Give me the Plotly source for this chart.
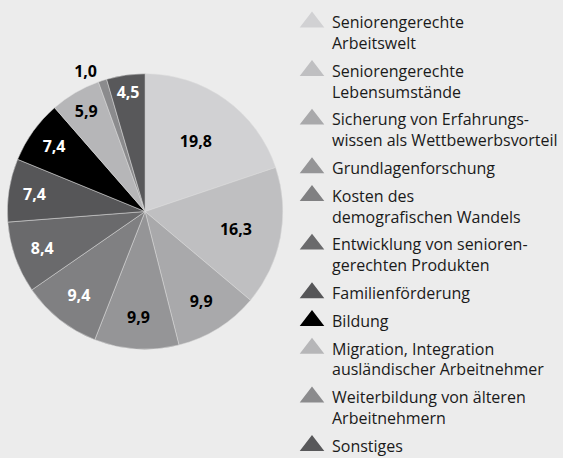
import plotly.graph_objects as go

categories = [
    "Seniorengerechte<br>Arbeitswelt",
    "Seniorengerechte<br>Lebensumstände",
    "Sicherung von Erfahrungs-<br>wissen als Wettbewerbsvorteil",
    "Grundlagenforschung",
    "Kosten des<br>demografischen Wandels",
    "Entwicklung von senioren-<br>gerechten Produkten",
    "Familienförderung",
    "Bildung",
    "Migration, Integration<br>ausländischer Arbeitnehmer",
    "Weiterbildung von älteren<br>Arbeitnehmern",
    "Sonstiges",
]
values = [19.8, 16.3, 9.9, 9.9, 9.4, 8.4, 7.4, 7.4, 5.9, 1.0, 4.5]
colors = ["#d1d1d3", "#bfbfc1", "#a9a9ab", "#959597", "#808082", "#6a6a6c",
          "#565658", "#000000", "#b6b6b8", "#8b8b8d", "#58585a"]
text_colors = ["black", "black", "black", "black", "white", "white",
               "white", "white", "black", "black", "white"]
text_positions = ["inside"] * 9 + ["outside", "inside"]

BG = "#ececec"
W, H = 563, 463  # slightly taller than the 458px window so the legend can sit lower

fig = go.Figure()
fig.add_trace(go.Pie(
    labels=categories,
    values=values,
    sort=False,
    direction="clockwise",
    rotation=0,
    marker=dict(colors=colors, line=dict(color="#dcdcdc", width=0.5)),
    texttemplate="%{value:.1f}",
    textposition=text_positions,
    insidetextorientation="horizontal",
    insidetextfont=dict(color=text_colors, size=16, family="Open Sans", weight="bold"),
    outsidetextfont=dict(color="black", size=16, family="Open Sans", weight="bold"),
    showlegend=False,
    hoverinfo="label+value",
    domain=dict(x=[7.5 / W, 288.5 / W], y=[(H - 352) / H, (H - 71) / H]),
))

for i, (cat, col) in enumerate(zip(categories, colors)):
    fig.add_trace(go.Scatter(
        x=[None], y=[None], mode="markers", name=cat,
        legendgroup=f"g{i}",
        marker=dict(symbol="triangle-up", size=16, color=col,
                    line=dict(color=col, width=3)),
        showlegend=True,
    ))

fig.update_layout(
    width=W, height=H,
    margin=dict(l=0, r=0, t=0, b=0),
    paper_bgcolor=BG, plot_bgcolor=BG,
    separators=", ",
    xaxis=dict(visible=False), yaxis=dict(visible=False),
    legend=dict(
        x=0.5293, y=0, xanchor="left", yanchor="bottom",
        font=dict(family="Open Sans", size=16, color="#1a1a1a"),
        valign="top", tracegroupgap=4, bgcolor="rgba(0,0,0,0)",
    ),
)

fig.write_html(
    "out.html",
    config={"displayModeBar": False},
    post_script="document.body.style.margin='0';document.body.style.overflow='hidden';document.body.style.background='#ececec';",
)
